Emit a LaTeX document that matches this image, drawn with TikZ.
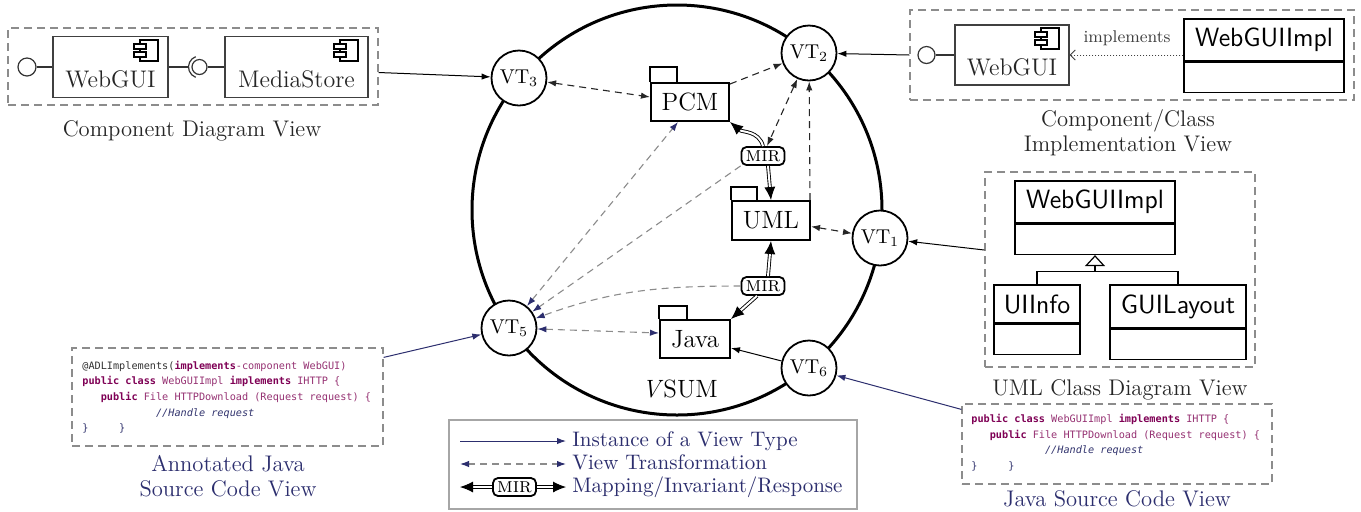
\documentclass[tikz,border=0pt]{standalone}
\usepackage{fontspec}
\newfontfamily\codefont{DejaVu Sans Mono}
\usetikzlibrary{arrows.meta,calc}
\definecolor{navy}{RGB}{44,46,110}
\definecolor{kwc}{RGB}{127,0,85}
\definecolor{idc}{RGB}{150,50,115}
\definecolor{cmc}{RGB}{50,52,110}
\definecolor{boxgray}{RGB}{140,140,140}
\tikzset{
  compicon/.pic={
    \draw[line width=0.9pt, fill=white] (-18,0) rectangle (0,-21);
    \draw[line width=0.9pt, fill=white] (-24,-4) rectangle (-12,-9);
    \draw[line width=0.9pt, fill=white] (-24,-12) rectangle (-12,-17);
  }
}
\begin{document}
\begin{tikzpicture}[x=0.5pt,y=0.5pt,
  viewbox/.style={draw=boxgray, dash pattern=on 4pt off 2.5pt, line width=0.6pt, inner sep=0pt},
  vt/.style={circle, draw, line width=0.9pt, fill=white, minimum size=27.5pt, inner sep=0pt, font=\fontsize{10}{12}\selectfont},
  pkg/.style={draw, line width=1pt, fill=white, inner sep=0pt, font=\fontsize{12.5}{15}\selectfont},
  comp/.style={draw=black!75, line width=0.7pt, inner sep=0pt, text height=20pt, text depth=0pt, font=\fontsize{12}{14}\selectfont, text=black!85},
  ball/.style={circle, draw=black!80, line width=0.6pt, fill=white, inner sep=0pt},
  clshead/.style={draw, line width=0.7pt, inner sep=0pt, font=\sffamily\fontsize{13.2}{15}\selectfont},
  clsbody/.style={draw, line width=0.7pt, inner sep=0pt, minimum height=15pt},
  mir/.style={draw, rounded corners=2.5pt, line width=0.9pt, fill=white, inner sep=0pt, minimum width=21.5pt, minimum height=9pt, font=\fontsize{10.5}{11}\selectfont},
  captxt/.style={align=center, font=\fontsize{11.3}{12.5}\selectfont, text=black!85},
  navycap/.style={align=center, font=\fontsize{11.3}{12.5}\selectfont, text=navy},
  inst/.style={line width=0.5pt, -{Latex[length=4.5pt,width=3.2pt]}},
  vtr/.style={line width=0.55pt, draw=black!85, dash pattern=on 3.5pt off 2.5pt, {Latex[length=4.5pt,width=3.2pt]}-{Latex[length=4.5pt,width=3.2pt]}},
  vtrone/.style={line width=0.55pt, draw=black!85, dash pattern=on 3.5pt off 2.5pt, -{Latex[length=4.5pt,width=3.2pt]}},
  vtrg/.style={line width=0.55pt, draw=black!45, dash pattern=on 3.5pt off 2.5pt, {Latex[length=4.5pt,width=3.2pt,color=navy]}-{Latex[length=4.5pt,width=3.2pt,color=navy]}},
  vtrgone/.style={line width=0.55pt, draw=black!45, dash pattern=on 3.5pt off 2.5pt, -{Latex[length=4.5pt,width=3.2pt,color=navy]}},
  mirline/.style={double=white, double distance=1pt, line width=0.45pt, -{Latex[length=6.5pt,width=5.5pt]}},
  codeline/.style={anchor=base west, inner sep=0pt, font=\codefont\fontsize{5.1}{7.85}\selectfont},
  legtext/.style={anchor=base west, inner sep=0pt, text=navy, font=\fontsize{10.5}{12}\selectfont}
]
\useasboundingbox (0,0) rectangle (1361,-511);
\fill[white] (0,0) rectangle (1361,-511);

% ---------- VSUM circle and view types ----------
\node[circle, draw, line width=1.5pt, minimum size=205pt, inner sep=0pt] (vsum) at (677,-210) {};
\node[font=\fontsize{12.5}{15}\selectfont] (vsumlbl) at (680,-389) {\textit{V}SUM};
\node[vt] (vt3) at (519,-78) {VT$_3$};
\node[vt] (vt2) at (809,-53) {VT$_2$};
\node[vt] (vt1) at (880,-238) {VT$_1$};
\node[vt] (vt5) at (509,-328) {VT$_5$};
\node[vt] (vt6) at (809,-368) {VT$_6$};

% ---------- packages ----------
\node[pkg, minimum width=39pt, minimum height=19pt] (pcm) at (690,-102) {PCM};
\draw[line width=1pt] (pcm.north west) -- ++(0,15) -- ++(27,0) -- ++(0,-15);
\node[pkg, minimum width=39pt, minimum height=19.5pt] (uml) at (771,-220.5) {UML};
\draw[line width=1pt] (uml.north west) -- ++(0,13) -- ++(26,0) -- ++(0,-13);
\node[pkg, minimum width=35pt, minimum height=19pt] (java) at (695,-339) {Java};
\draw[line width=1pt] (java.north west) -- ++(0,13) -- ++(28,0) -- ++(0,-13);

\node[mir] (mir1) at (763,-156) {\textsc{mir}};
\node[mir] (mir2) at (763,-286) {\textsc{mir}};

% ---------- inner connectors ----------
\draw[vtr] (vt3) -- ([yshift=2.5pt]pcm.west);
\draw[vtrone] ([yshift=-1pt]pcm.north east) -- (vt2);
\draw[vtr] (vt2) -- ([xshift=2pt]mir1.north);
\draw[vtrone] ([xshift=-0.5pt]uml.north east) -- (vt2);
\draw[vtr] ([yshift=-3pt]uml.east) -- (vt1);
\draw[mirline] (mir1.north) to[out=105,in=-40] (pcm.south east);
\draw[mirline] ([xshift=2.5pt]mir1.south) -- (uml.north);
\draw[mirline] ([xshift=2.5pt]mir2.north) -- (uml.south);
\draw[mirline] ([xshift=-3pt]mir2.south) -- (java.north east);
\draw[vtrg] (vt5) -- ([xshift=-6pt]pcm.south);
\draw[vtrgone] (mir1.south west) -- (vt5);
\draw[vtrgone] (mir2.west) to[out=180,in=20] (vt5);
\draw[vtrg] (vt5) -- ([yshift=3pt]java.west);
\draw[inst] (vt6) -- ([yshift=-4.5pt]java.east);

% ---------- Component Diagram View ----------
\node[viewbox, minimum width=185pt, minimum height=38.5pt] (cdv) at (193,-66.5) {};
\node[comp, minimum width=57.5pt, minimum height=30.5pt] (wg1) at (110.5,-67) {WebGUI};
\pic at ([xshift=-5.5pt,yshift=-2pt]wg1.north east) {compicon};
\node[comp, minimum width=71.5pt, minimum height=30.5pt] (ms1) at (296.5,-67) {MediaStore};
\pic at ([xshift=-5.5pt,yshift=-2pt]ms1.north east) {compicon};
\node[ball, minimum size=9pt] (lp1) at (27,-67) {};
\node[ball, minimum size=7.5pt] (bs1) at (199.5,-67) {};
\draw[black!80, line width=0.6pt] (lp1.east) -- (wg1.west);
\draw[black!80, line width=0.6pt] (wg1.east) -- ([xshift=-5.5pt]bs1.center);
\draw[black!80, line width=0.6pt] ([shift={(110:5.5pt)}]bs1.center) arc[start angle=110, end angle=250, radius=5.5pt];
\draw[black!80, line width=0.6pt] (bs1.east) -- (ms1.west);
\node[captxt] (cap1) at (192,-131) {Component Diagram View};
\draw[inst] ([yshift=-3pt]cdv.east) -- (vt3);

% ---------- Component/Class Implementation View ----------
\node[viewbox, minimum width=222pt, minimum height=45pt] (ccv) at (1132,-55) {};
\node[ball, minimum size=8.5pt] (lp2) at (926.5,-55) {};
\node[comp, minimum width=57pt, minimum height=30pt] (wg2) at (1012,-55) {WebGUI};
\pic at ([xshift=-5.5pt,yshift=-2pt]wg2.north east) {compicon};
\draw[black!80, line width=0.6pt] (lp2.east) -- (wg2.west);
\node[clshead, minimum width=80pt, minimum height=21pt] (wgi2) at (1264,-40) {WebGUIImpl};
\node[clsbody, minimum width=80pt, anchor=north] (wgi2b) at (wgi2.south) {};
\draw[black!75, line width=0.45pt, dash pattern=on 0.5pt off 1pt, -{Straight Barb[length=2.5pt,width=5pt]}] ([yshift=-7.5pt]wgi2.west) -- (wg2.east);
\node[font=\fontsize{8.5}{10}\selectfont, text=black!75] (impl) at (1127,-38) {implements};
\node[captxt] (cap2) at (1128,-132.5) {Component/Class\\Implementation View};
\draw[inst] (ccv.west) -- (vt2);

% ---------- UML Class Diagram View ----------
\node[viewbox, minimum width=135pt, minimum height=97.5pt] (ucd) at (1120,-269.5) {};
\node[clshead, minimum width=80pt, minimum height=21pt] (wgi3) at (1095,-202) {WebGUIImpl};
\node[clsbody, minimum width=80pt, anchor=north] (wgi3b) at (wgi3.south) {};
\node[clshead, minimum width=43pt, minimum height=19pt] (uii) at (1037,-304) {UIInfo};
\node[clsbody, minimum width=43pt, anchor=north] (uiib) at (uii.south) {};
\node[clshead, minimum width=68pt, minimum height=21.5pt] (gul) at (1178,-306.5) {GUILayout};
\node[clsbody, minimum width=68pt, anchor=north] (gulb) at (gul.south) {};
\coordinate (inh) at ($(wgi3b.south)+(0,-16)$);
\draw[line width=0.6pt] (uii.north) |- (inh) -| (gul.north);
\draw[line width=0.6pt, -{Triangle[open,length=5.5pt,width=10pt]}] (inh) -- (wgi3b.south);
\node[captxt] (cap3) at (1120,-390) {UML Class Diagram View};
\draw[inst] ([yshift=9.75pt]ucd.west) -- (vt1);

% ---------- Annotated Java Source Code View ----------
\node[viewbox, minimum width=155.5pt, minimum height=49pt] (acv) at (227.5,-397) {};
\node[codeline] (a1) at (82,-369) {{\color{black!80}@ADLImplements(}\textbf{\color{kwc}implements}{\color{idc}-component WebGUI)}};
\node[codeline] (a2) at (82,-384.7) {\textbf{\color{kwc}public class} {\color{idc}WebGUIImpl} \textbf{\color{kwc}implements} {\color{idc}IHTTP \{}};
\node[codeline] (a3) at (82,-400.4) {\phantom{xxx}\textbf{\color{kwc}public} {\color{idc}File HTTPDownload (Request request) \{}};
\node[codeline] (a4) at (82,-416.1) {\phantom{xxxxxxxxxxxx}{\color{cmc}\itshape //Handle request}};
\node[codeline] (a5) at (82,-431.8) {{\color{cmc}\}\phantom{xxxxx}\}}};
\node[navycap] (cap4) at (228,-476) {Annotated Java\\Source Code View};
\draw[inst, navy] ([yshift=-5pt]acv.north east) -- (vt5);

% ---------- Java Source Code View ----------
\node[viewbox, minimum width=155pt, minimum height=40pt] (jcv) at (1117,-444) {};
\node[codeline] (j1) at (971,-422.5) {\textbf{\color{kwc}public class} {\color{idc}WebGUIImpl} \textbf{\color{kwc}implements} {\color{idc}IHTTP \{}};
\node[codeline] (j2) at (971,-438.2) {\phantom{xxx}\textbf{\color{kwc}public} {\color{idc}File HTTPDownload (Request request) \{}};
\node[codeline] (j3) at (971,-453.9) {\phantom{xxxxxxxxxxxx}{\color{cmc}\itshape //Handle request}};
\node[codeline] (j4) at (971,-469.6) {{\color{cmc}\}\phantom{xxxxx}\}}};
\node[navycap] (cap5) at (1117,-499) {Java Source Code View};
\draw[inst, navy] ([yshift=-3pt]jcv.north west) -- (vt6);

% ---------- Legend ----------
\node[draw=black!35, line width=0.6pt, minimum width=204pt, minimum height=44.5pt, inner sep=0pt] (leg) at (653,-464.5) {};
\coordinate (l1a) at (460,-441);
\coordinate (l1b) at (566,-441);
\coordinate (l2a) at (460,-464);
\coordinate (l2b) at (566,-464);
\coordinate (l3a) at (460,-487);
\coordinate (l3b) at (566,-487);
\draw[inst, navy] (l1a) -- (l1b);
\draw[vtrg] (l2a) -- (l2b);
\node[mir] (legmir) at (514.5,-487) {\textsc{mir}};
\draw[mirline] (legmir) -- (l3a);
\draw[mirline] (legmir) -- (l3b);
\node[legtext] (lt1) at (572,-446) {Instance of a View Type};
\node[legtext] (lt2) at (572,-469) {View Transformation};
\node[legtext] (lt3) at (572,-492) {Mapping/Invariant/Response};
\end{tikzpicture}
\end{document}
